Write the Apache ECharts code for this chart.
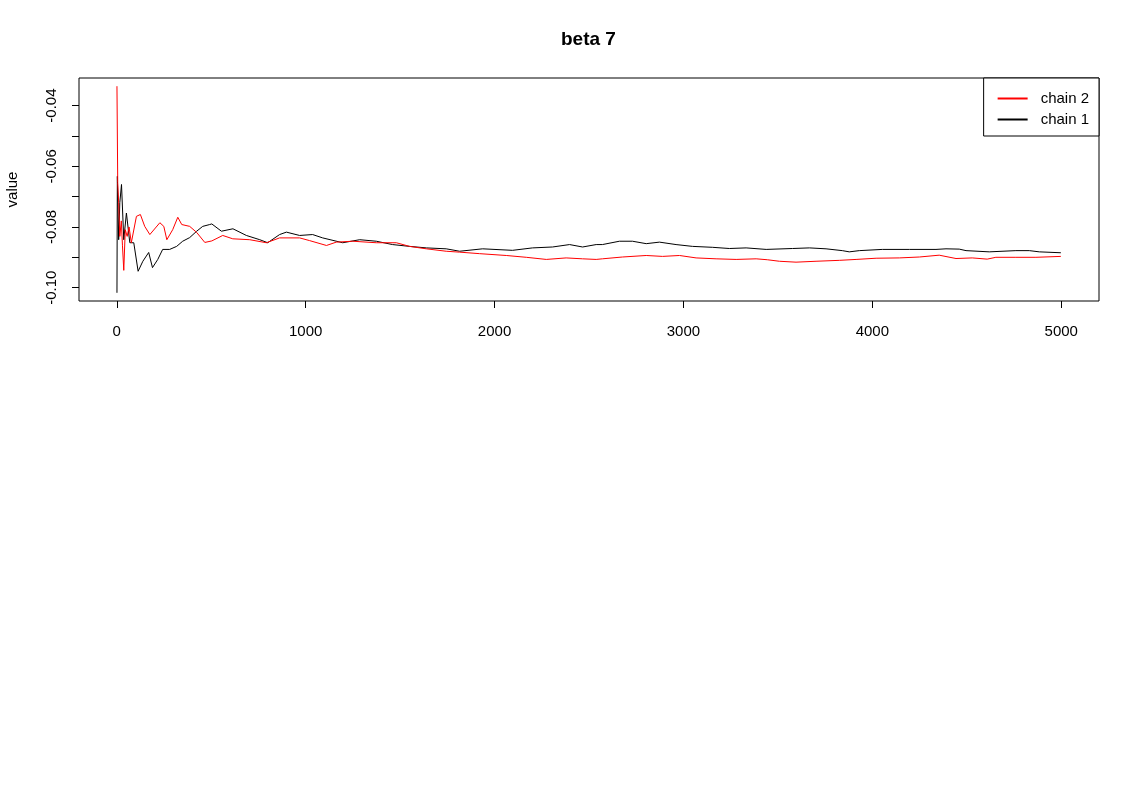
<!DOCTYPE html>
<html>
<head>
<meta charset="utf-8">
<script src="https://cdn.jsdelivr.net/npm/echarts@6/dist/echarts.min.js"></script>
<style>
html,body{margin:0;padding:0;background:#fff;}
#chart{width:1140px;height:800px;}
</style>
</head>
<body>
<div id="chart"></div>
<script>
const chartTitle = "beta 7";
const seriesNames = ["chain 1", "chain 2"];
const xTicks = [0, 1000, 2000, 3000, 4000, 5000];
const yTicks = [-0.10, -0.09, -0.08, -0.07, -0.06, -0.05, -0.04];
const yLabels = [-0.10, -0.08, -0.06, -0.04];

const chain1 = [
  [1,-0.1017],[3,-0.0633],[10,-0.0842],[16,-0.0720],[25,-0.0660],[37,-0.0842],
  [51,-0.0754],[69,-0.0852],[90,-0.0852],[113,-0.0946],[138,-0.0913],[169,-0.0884],
  [189,-0.0934],[217,-0.0907],[243,-0.0874],[280,-0.0874],[317,-0.0864],[349,-0.0847],
  [386,-0.0835],[423,-0.0814],[455,-0.0798],[492,-0.0792],[503,-0.0790],[554,-0.0814],
  [615,-0.0806],[686,-0.0828],[757,-0.0842],[799,-0.0852],[862,-0.0825],[898,-0.0817],
  [968,-0.0828],[1037,-0.0825],[1090,-0.0836],[1196,-0.0852],[1286,-0.0842],[1374,-0.0847],
  [1460,-0.0858],[1550,-0.0864],[1639,-0.0869],[1744,-0.0872],[1815,-0.0880],[1937,-0.0872],
  [2095,-0.0877],[2201,-0.0869],[2307,-0.0866],[2397,-0.0858],[2466,-0.0866],[2538,-0.0858],
  [2571,-0.0858],[2661,-0.0847],[2730,-0.0847],[2803,-0.0855],[2873,-0.0850],[2961,-0.0858],
  [3048,-0.0864],[3153,-0.0867],[3243,-0.0871],[3332,-0.0869],[3438,-0.0874],[3577,-0.0871],
  [3667,-0.0869],[3755,-0.0872],[3841,-0.0878],[3878,-0.0882],[3931,-0.0878],[4053,-0.0874],
  [4196,-0.0874],[4337,-0.0874],[4390,-0.0872],[4460,-0.0873],[4496,-0.0878],[4619,-0.0882],
  [4760,-0.0878],[4831,-0.0878],[4884,-0.0882],[4998,-0.0885]
];

const chain2 = [
  [1,-0.0336],[5,-0.0654],[10,-0.0720],[16,-0.0831],[24,-0.0780],[30,-0.0860],
  [37,-0.0943],[45,-0.0809],[55,-0.0831],[65,-0.0800],[77,-0.0852],[104,-0.0765],
  [125,-0.0759],[148,-0.0798],[175,-0.0825],[228,-0.0786],[249,-0.0798],[265,-0.0842],
  [296,-0.0809],[323,-0.0768],[344,-0.0792],[386,-0.0798],[423,-0.0818],[466,-0.0851],
  [503,-0.0846],[561,-0.0828],[614,-0.0839],[704,-0.0842],[792,-0.0852],[862,-0.0836],
  [968,-0.0836],[1021,-0.0845],[1110,-0.0861],[1162,-0.0850],[1249,-0.0847],[1374,-0.0852],
  [1480,-0.0852],[1550,-0.0864],[1639,-0.0872],[1744,-0.0880],[1815,-0.0883],[1921,-0.0888],
  [2062,-0.0894],[2168,-0.0900],[2274,-0.0907],[2379,-0.0902],[2466,-0.0905],[2538,-0.0907],
  [2571,-0.0905],[2677,-0.0899],[2803,-0.0894],[2889,-0.0897],[2979,-0.0894],[3067,-0.0902],
  [3173,-0.0905],[3279,-0.0907],[3385,-0.0905],[3444,-0.0908],[3508,-0.0913],[3596,-0.0916],
  [3702,-0.0913],[3825,-0.0910],[3914,-0.0907],[4020,-0.0903],[4143,-0.0902],[4249,-0.0899],
  [4354,-0.0893],[4443,-0.0904],[4529,-0.0902],[4608,-0.0906],[4654,-0.0900],[4760,-0.0900],
  [4866,-0.0900],[4998,-0.0897]
];

const FONT = "'Liberation Sans', Arial, Helvetica, sans-serif";
const chart = echarts.init(document.getElementById('chart'), null, {renderer: 'canvas'});

chart.setOption({
  animation: false,
  backgroundColor: '#ffffff',
  textStyle: {fontFamily: FONT, color: '#000'},
  title: {
    text: chartTitle,
    left: 561, top: 30,
    padding: 0,
    textStyle: {fontFamily: FONT, fontSize: 19, fontWeight: 'bold', color: '#000'}
  },
  grid: {
    left: 79, top: 78, right: 41, bottom: 499,
    containLabel: false, outerBoundsMode: 'none',
    show: true, borderColor: '#000', borderWidth: 1, backgroundColor: 'transparent'
  },
  legend: {
    data: [seriesNames[1], seriesNames[0]],
    orient: 'vertical',
    right: 41, top: 78,
    backgroundColor: '#fff',
    borderColor: '#000', borderWidth: 1, borderRadius: 0,
    padding: [13, 10, 9, 14],
    itemWidth: 30, itemHeight: 14, itemGap: 6,
    icon: 'path://M0,6.5 L30,6.5 L30,8.5 L0,8.5 Z',
    textStyle: {fontFamily: FONT, fontSize: 15, color: '#000', padding: [0, 0, 0, 8]}
  },
  xAxis: {
    type: 'value', min: -200, max: 5200,
    splitLine: {show: false},
    axisLine: {show: false, onZero: false},
    axisTick: {show: true, length: 7, inside: false, customValues: xTicks, lineStyle: {color: '#000'}},
    axisLabel: {customValues: xTicks, fontFamily: FONT, fontSize: 15, color: '#000', margin: 23,
      formatter: v => String(v)}
  },
  yAxis: {
    type: 'value', min: -0.1044, max: -0.0309,
    name: 'value', nameLocation: 'middle', nameGap: 59, nameRotate: 90,
    nameTextStyle: {fontFamily: FONT, fontSize: 15, color: '#000'},
    splitLine: {show: false},
    axisLine: {show: false, onZero: false},
    axisTick: {show: true, length: 7, inside: false, customValues: yTicks, lineStyle: {color: '#000'}},
    axisLabel: {
      customValues: yLabels, rotate: 90, fontFamily: FONT, fontSize: 15, color: '#000', margin: 20,
      formatter: v => v.toFixed(2)
    }
  },
  series: [
    {name: seriesNames[0], type: 'line', data: chain1, showSymbol: false, symbol: 'none',
     lineStyle: {color: '#000000', width: 1}, itemStyle: {color: '#000000'}},
    {name: seriesNames[1], type: 'line', data: chain2, showSymbol: false, symbol: 'none',
     lineStyle: {color: '#ff0000', width: 1}, itemStyle: {color: '#ff0000'}}
  ]
});
</script>
</body>
</html>
